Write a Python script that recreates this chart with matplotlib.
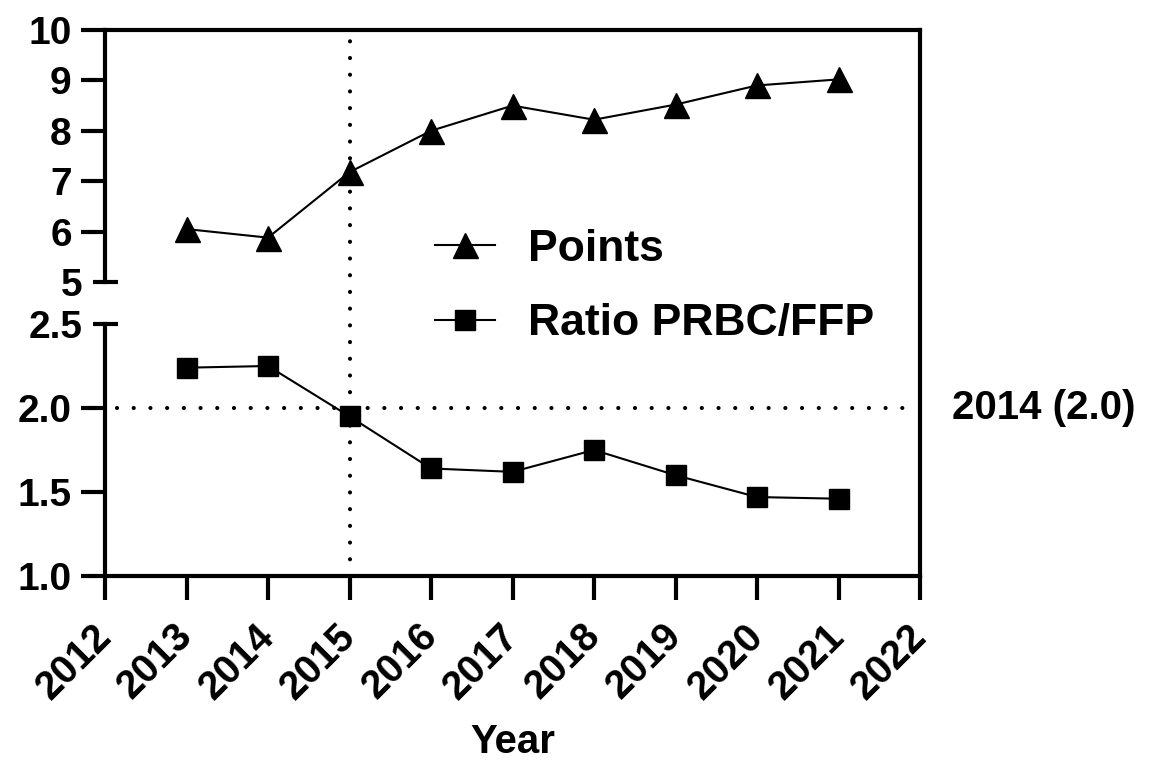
import matplotlib
matplotlib.use("Agg")
from matplotlib import pyplot as plt
from matplotlib.transforms import blended_transform_factory

# data
years = [2013, 2014, 2015, 2016, 2017, 2018, 2019, 2020, 2021]
points = [6.05, 5.88, 7.18, 8.0, 8.5, 8.22, 8.52, 8.9, 9.02]
ratio = [2.24, 2.25, 1.95, 1.64, 1.62, 1.75, 1.60, 1.47, 1.46]
xticks = list(range(2012, 2023))
top_ticks = [6, 7, 8, 9, 10]
bottom_ticks = [1.0, 1.5, 2.0]
bottom_tick_labels = ["1.0", "1.5", "2.0"]
ref_year = 2015
ref_ratio = 2.0
ref_label = "2014 (2.0)"

plt.rcParams['font.family'] = ['Liberation Sans', 'DejaVu Sans']
plt.rcParams['font.weight'] = 'bold'

W, H = 1151, 760
fig = plt.figure(figsize=(W / 100, H / 100), dpi=100)

x0, x1 = 105 / W, 920 / W
top_t, top_b = 1 - 30 / H, 1 - 282 / H
bot_t, bot_b = 1 - 324 / H, 1 - 576 / H

ax_bg = fig.add_axes([x0, bot_b, x1 - x0, top_t - bot_b])
ax_top = fig.add_axes([x0, top_b, x1 - x0, top_t - top_b])
ax_bot = fig.add_axes([x0, bot_b, x1 - x0, bot_t - bot_b])

spine_w = 3
lab = 28
dots = (0, (0.01, 4))

# background axes: continuous right spine + vertical reference line
ax_bg.set_xlim(2012, 2022)
ax_bg.set_ylim(0, 1)
for s in ["left", "top", "bottom"]:
  ax_bg.spines[s].set_visible(False)
ax_bg.spines["right"].set_linewidth(spine_w)
ax_bg.set_xticks([])
ax_bg.set_yticks([])
ax_bg.patch.set_visible(False)
ax_bg.axvline(ref_year, ymax=0.99, color="k", lw=3, linestyle=dots,
              dash_capstyle="round")

for ax in (ax_top, ax_bot):
  ax.patch.set_visible(False)
  ax.set_xlim(2012, 2022)
  ax.spines["right"].set_visible(False)
  for s in ax.spines.values():
    s.set_linewidth(spine_w)
  ax.tick_params(which="major", direction="out", length=17, width=spine_w,
                 labelsize=lab, pad=7)
  ax.tick_params(which="minor", direction="inout", length=18, width=spine_w,
                 labelsize=lab, pad=7)

# top segment
ax_top.set_ylim(5, 10)
ax_top.spines["bottom"].set_visible(False)
ax_top.set_yticks(top_ticks)
ax_top.set_yticks([5], labels=["5"], minor=True)
ax_top.tick_params(axis="x", which="both", bottom=False, labelbottom=False)
l1, = ax_top.plot(years, points, color="k", lw=1.5, marker="^", ms=18)

# bottom segment
ax_bot.set_ylim(1.0, 2.5)
ax_bot.spines["top"].set_visible(False)
ax_bot.set_yticks(bottom_ticks, labels=bottom_tick_labels)
ax_bot.set_yticks([2.5], labels=["2.5"], minor=True)
ax_bot.set_xticks(xticks)
ax_bot.set_xticklabels([str(x) for x in xticks], rotation=45, ha="right",
                       va="center", rotation_mode="anchor")
ax_bot.tick_params(axis="x", which="major", pad=22, labelsize=28.5)
l2, = ax_bot.plot(years, ratio, color="k", lw=1.5, marker="s", ms=15)
ax_bot.axhline(ref_ratio, xmin=0.015, xmax=0.985, color="k", lw=3,
               linestyle=dots, dash_capstyle="round")
tr = blended_transform_factory(ax_bot.transAxes, ax_bot.transData)
ax_bot.text(1.039, ref_ratio, ref_label, transform=tr, fontsize=29,
            va="center", ha="left")
ax_bot.set_xlabel("Year", fontsize=29, fontweight="bold", labelpad=12)

fig.legend([l1, l2], ["Points", "Ratio PRBC/FFP"], loc="upper left",
           bbox_to_anchor=(0.378, 0.699), frameon=False, fontsize=32,
           handlelength=1.35, handletextpad=0.75, labelspacing=0.75,
           borderpad=0, borderaxespad=0)

fig.savefig("out.png", dpi=100)
